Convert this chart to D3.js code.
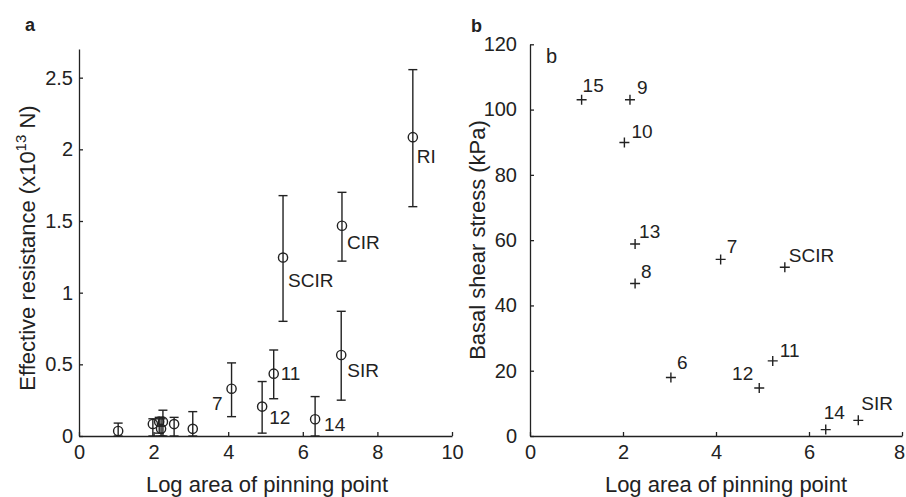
<!DOCTYPE html>
<html>
<head>
<meta charset="utf-8">
<script src="https://cdn.jsdelivr.net/npm/d3@7"></script>
<style>
    body { margin: 0; background: #fff; }
    text { font-family: "Liberation Sans", Arial, sans-serif; fill: #222; }
</style>
</head>
<body>
<script>
const width = 906;
const height = 497;

// panel a: effective resistance vs log area
const areaA = [1.05, 1.98, 2.15, 2.25, 2.2, 2.55, 3.05, 4.09, 4.91, 5.22, 5.47, 6.33, 7.03, 7.05, 8.95];
const resistA = [0.035, 0.084, 0.1, 0.1, 0.05, 0.083, 0.05, 0.33, 0.205, 0.435, 1.245, 0.117, 0.565, 1.467, 2.085];
const resistLo = [0.0, 0.0, 0.02, 0.0, 0.0, 0.0, 0.0, 0.135, 0.02, 0.26, 0.8, 0.0, 0.25, 1.22, 1.6];
const resistHi = [0.09, 0.12, 0.13, 0.18, 0.12, 0.13, 0.17, 0.51, 0.38, 0.6, 1.677, 0.275, 0.87, 1.7, 2.556];
const labelsA = ["", "", "", "", "", "", "", "7", "12", "11", "SCIR", "14", "SIR", "CIR", "RI"];
const xTicksA = [0, 2, 4, 6, 8, 10];
const yTicksA = [0, 0.5, 1, 1.5, 2, 2.5];

// panel b: basal shear stress vs log area
const areaB = [1.11, 2.15, 2.03, 2.26, 2.26, 4.1, 5.48, 3.03, 5.22, 4.93, 6.36, 7.06];
const stressB = [103, 103, 89.9, 58.8, 46.7, 54.1, 51.7, 17.9, 23, 14.7, 1.96, 4.8];
const labelsB = ["15", "9", "10", "13", "8", "7", "SCIR", "6", "11", "12", "14", "SIR"];
const xTicksB = [0, 2, 4, 6, 8];
const yTicksB = [0, 20, 40, 60, 80, 100, 120];

// label nudges in pixels (anchor, dx, dy)
const nudgeA = {
    "7": ["end", -9, 21], "12": ["start", 7, 17], "11": ["start", 7, 6],
    "SCIR": ["start", 5, 29], "14": ["start", 9, 12], "SIR": ["start", 6, 22],
    "CIR": ["start", 5, 23], "RI": ["start", 4, 26]
};
const nudgeB = {
    "15": ["start", 1, -8], "9": ["start", 7, -6], "10": ["start", 7, -5],
    "13": ["start", 4, -6], "8": ["start", 6, -6], "7": ["start", 6, -6],
    "SCIR": ["start", 4, -5], "6": ["start", 6, -9], "11": ["start", 7, -4],
    "12": ["end", -6, -8], "14": ["start", -2, -11], "SIR": ["start", 3, -10]
};

const ink = "#222";

const svg = d3.select("body")
    .append("svg")
    .attr("width", width)
    .attr("height", height)
    .style("background", "#fff");

function drawAxes(x, y, xt, yt, ypad) {
    const fmt = d => String(d);
    const gx = svg.append("g")
        .attr("transform", "translate(0," + y.range()[0] + ")")
        .call(d3.axisBottom(x).tickValues(xt).tickFormat(fmt)
            .tickSize(-4).tickSizeOuter(0).tickPadding(9));
    const gy = svg.append("g")
        .attr("transform", "translate(" + x.range()[0] + ",0)")
        .call(d3.axisLeft(y).tickValues(yt).tickFormat(fmt)
            .tickSize(-4).tickSizeOuter(0).tickPadding(ypad));
    [gx, gy].forEach(g => {
        g.attr("font-family", null).attr("font-size", null);
        g.selectAll("path, line").attr("stroke", ink).attr("stroke-width", 1.3);
        g.selectAll("text").style("font-size", "20px").attr("fill", ink);
    });
    return gx;
}

// ---- panel a
const xA = d3.scaleLinear().domain([0, 10]).range([79, 452]);
const yA = d3.scaleLinear().domain([0, 2.7]).range([436, 49]);
drawAxes(xA, yA, xTicksA, yTicksA, 6);

const pa = svg.append("g");
areaA.forEach((a, i) => {
    const cx = xA(a);
    pa.append("line")
        .attr("x1", cx).attr("x2", cx)
        .attr("y1", yA(resistLo[i])).attr("y2", yA(resistHi[i]))
        .attr("stroke", ink).attr("stroke-width", 1.4);
    [resistLo[i], resistHi[i]].forEach(v => {
        pa.append("line")
            .attr("x1", cx - 4.5).attr("x2", cx + 4.5)
            .attr("y1", yA(v)).attr("y2", yA(v))
            .attr("stroke", ink).attr("stroke-width", 1.4);
    });
    pa.append("circle")
        .attr("cx", cx).attr("cy", yA(resistA[i]))
        .attr("r", 4.6)
        .attr("fill", "none")
        .attr("stroke", ink).attr("stroke-width", 1.4);
    if (labelsA[i]) {
        const n = nudgeA[labelsA[i]];
        pa.append("text")
            .attr("x", cx + n[1]).attr("y", yA(resistA[i]) + n[2])
            .attr("text-anchor", n[0])
            .style("font-size", "19px")
            .text(labelsA[i]);
    }
});

svg.append("text")
    .attr("x", 267).attr("y", 492)
    .attr("text-anchor", "middle")
    .style("font-size", "22px")
    .text("Log area of pinning point");

const ylabA = svg.append("text")
    .attr("transform", "translate(35,248) rotate(-90)")
    .attr("text-anchor", "middle")
    .style("font-size", "22px");
ylabA.append("tspan").text("Effective resistance (x10");
ylabA.append("tspan").attr("dy", -9).style("font-size", "15px").text("13");
ylabA.append("tspan").attr("dy", 9).text(" N)");

svg.append("text")
    .attr("x", 25).attr("y", 31)
    .style("font-size", "18px").style("font-weight", "bold")
    .text("a");

// ---- panel b
const xB = d3.scaleLinear().domain([0, 8]).range([530, 902]);
const yB = d3.scaleLinear().domain([0, 120]).range([436, 44.3]);
const gxB = drawAxes(xB, yB, xTicksB, yTicksB, 13);
// last tick label sits on the page edge; keep it fully inside
gxB.selectAll(".tick text").filter(d => d === 8).attr("text-anchor", "end").attr("dx", 2.5);

const pb = svg.append("g");
areaB.forEach((a, i) => {
    const px = xB(a), py = yB(stressB[i]);
    pb.append("path")
        .attr("d", "M" + (px - 5) + "," + py + "H" + (px + 5) + "M" + px + "," + (py - 5) + "V" + (py + 5))
        .attr("stroke", ink).attr("stroke-width", 1.4);
    const n = nudgeB[labelsB[i]];
    pb.append("text")
        .attr("x", px + n[1]).attr("y", py + n[2])
        .attr("text-anchor", n[0])
        .style("font-size", "19px")
        .text(labelsB[i]);
});

svg.append("text")
    .attr("x", 726).attr("y", 492)
    .attr("text-anchor", "middle")
    .style("font-size", "22px")
    .text("Log area of pinning point");

svg.append("text")
    .attr("transform", "translate(485,240) rotate(-90)")
    .attr("text-anchor", "middle")
    .style("font-size", "22px")
    .text("Basal shear stress (kPa)");

svg.append("text")
    .attr("x", 471).attr("y", 32)
    .style("font-size", "18px").style("font-weight", "bold")
    .text("b");

svg.append("text")
    .attr("x", 546).attr("y", 63)
    .style("font-size", "20px")
    .text("b");
</script>
</body>
</html>
